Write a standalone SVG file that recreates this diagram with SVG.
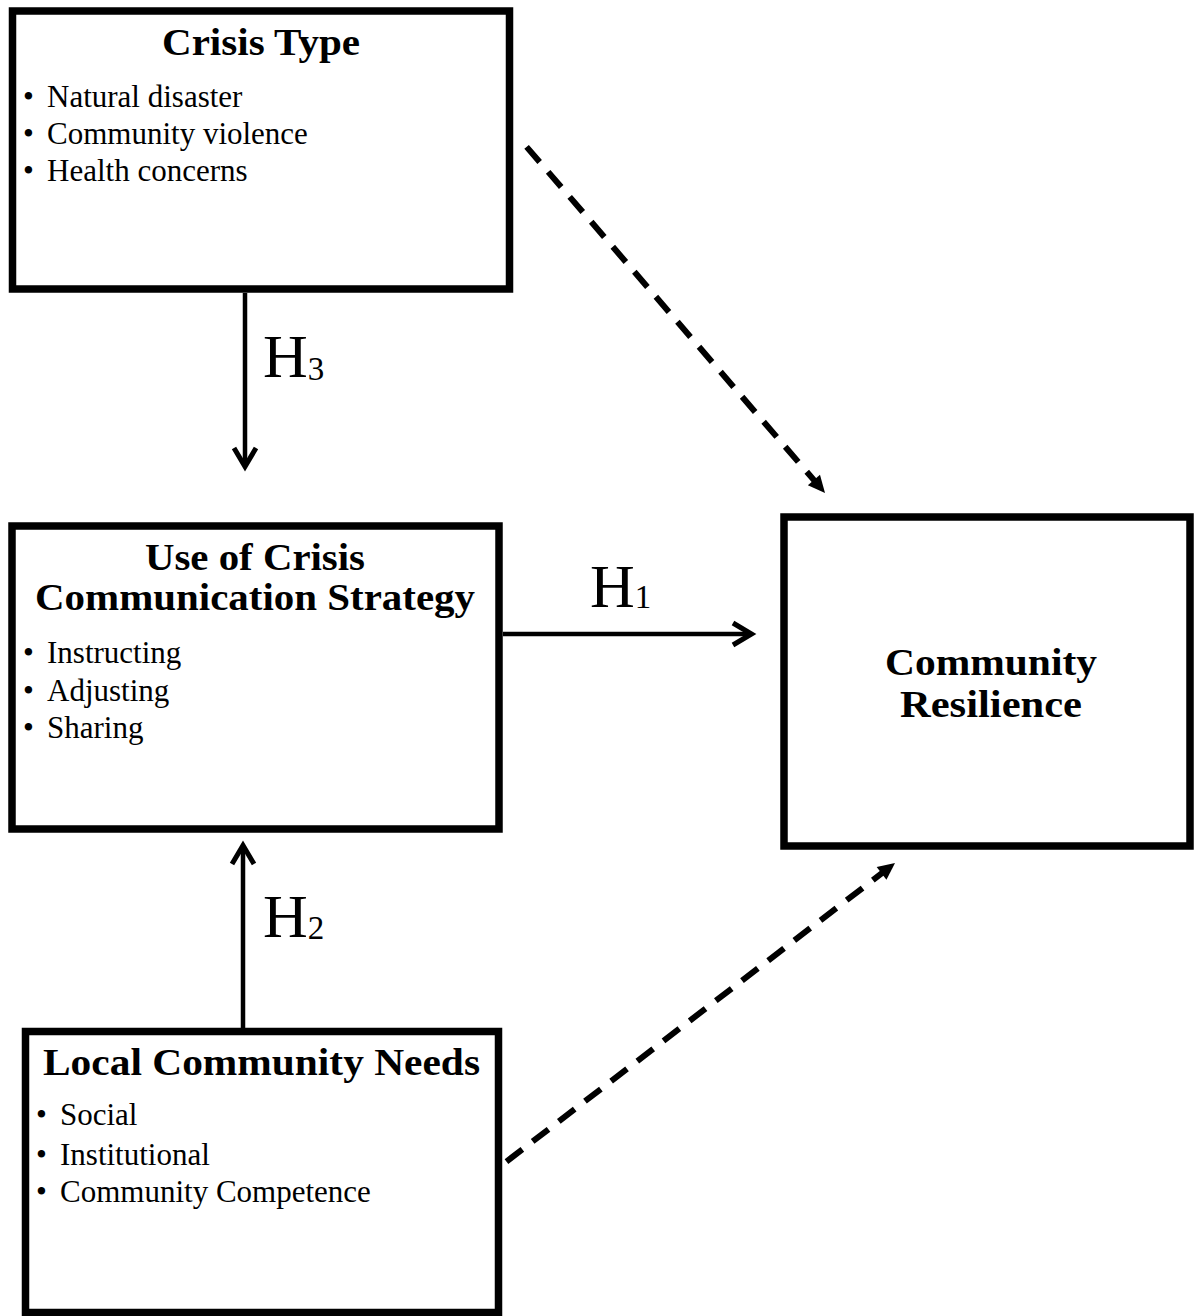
<svg xmlns="http://www.w3.org/2000/svg" width="1194" height="1316" viewBox="0 0 1194 1316">
  <style>
    .box { fill: #ffffff; stroke: #000000; stroke-width: 7.5; }
    .title { font-family: "Liberation Serif", "Times New Roman", serif; font-weight: bold; font-size: 37px; fill: #000000; text-anchor: middle; }
    .item { font-family: "Liberation Serif", "Times New Roman", serif; font-size: 31px; fill: #000000; }
    .hyp { font-family: "Liberation Serif", "Times New Roman", serif; font-size: 62px; fill: #000000; }
    .sub { font-size: 33px; }
    .solid { stroke: #000000; stroke-width: 4.5; fill: none; }
    .dashed { stroke: #000000; stroke-width: 6; fill: none; stroke-dasharray: 20 13; }
  </style>
  <defs>
    <!-- open chevron head for the solid hypothesis arrows -->
    <marker id="chevron" markerUnits="userSpaceOnUse" viewBox="-30 -16 36 32" markerWidth="36" markerHeight="32" refX="-4" refY="0" orient="auto" overflow="visible">
      <path d="M -22 -11 L -3.5 0 L -22 11" fill="none" stroke="#000000" stroke-width="5" stroke-linejoin="miter"/>
    </marker>
    <!-- small filled head for the dashed direct-effect arrows -->
    <marker id="dart" markerUnits="userSpaceOnUse" viewBox="-20 -10 24 20" markerWidth="24" markerHeight="20" refX="-8" refY="0" orient="auto-start-reverse" overflow="visible">
      <path d="M -17 -8 L 0 0 L -17 8 Z" fill="#000000"/>
    </marker>
  </defs>

  <rect width="1194" height="1316" fill="#ffffff"/>

  <g id="crisis-type">
    <rect class="box" x="12.5" y="11" width="497" height="278"/>
    <text class="title" x="261" y="55" font-size="38" textLength="198" lengthAdjust="spacingAndGlyphs">Crisis Type</text>
    <text class="item" x="23" y="107">•</text>
    <text class="item" x="47" y="107">Natural disaster</text>
    <text class="item" x="23" y="144">•</text>
    <text class="item" x="47" y="144">Community violence</text>
    <text class="item" x="23" y="181">•</text>
    <text class="item" x="47" y="181">Health concerns</text>
  </g>

  <g id="communication-strategy">
    <rect class="box" x="12" y="526" width="487" height="303"/>
    <text class="title" x="255" y="570" textLength="220" lengthAdjust="spacingAndGlyphs">Use of Crisis</text>
    <text class="title" x="255" y="610" textLength="440" lengthAdjust="spacingAndGlyphs">Communication Strategy</text>
    <text class="item" x="23" y="663">•</text>
    <text class="item" x="47" y="663">Instructing</text>
    <text class="item" x="23" y="701">•</text>
    <text class="item" x="47" y="701">Adjusting</text>
    <text class="item" x="23" y="738">•</text>
    <text class="item" x="47" y="738">Sharing</text>
  </g>

  <g id="community-resilience">
    <rect class="box" x="784" y="517" width="406" height="329"/>
    <text class="title" x="991" y="675" font-size="38" textLength="212" lengthAdjust="spacingAndGlyphs">Community</text>
    <text class="title" x="991" y="717" font-size="38" textLength="182" lengthAdjust="spacingAndGlyphs">Resilience</text>
  </g>

  <g id="local-needs">
    <rect class="box" x="25.5" y="1031.5" width="473" height="281"/>
    <text class="title" x="261.5" y="1075" textLength="437" lengthAdjust="spacingAndGlyphs">Local Community Needs</text>
    <text class="item" x="36" y="1125">•</text>
    <text class="item" x="60" y="1125">Social</text>
    <text class="item" x="36" y="1165">•</text>
    <text class="item" x="60" y="1165">Institutional</text>
    <text class="item" x="36" y="1202">•</text>
    <text class="item" x="60" y="1202">Community Competence</text>
  </g>

  <g id="connectors">
    <!-- H3: crisis type -> strategy -->
    <line class="solid" x1="245" y1="293" x2="245" y2="466" marker-end="url(#chevron)"/>
    <!-- H2: local needs -> strategy -->
    <line class="solid" x1="243" y1="1031" x2="243" y2="846" marker-end="url(#chevron)"/>
    <!-- H1: strategy -> resilience -->
    <line class="solid" x1="503" y1="634" x2="751" y2="634" marker-end="url(#chevron)"/>
    <!-- dashed direct paths, drawn from the head back so a dash meets the arrowhead -->
    <line class="dashed" x1="819.8" y1="486.9" x2="525" y2="145" marker-start="url(#dart)"/>
    <line class="dashed" x1="888.7" y1="867.9" x2="502" y2="1165" marker-start="url(#dart)"/>
  </g>

  <g id="hypothesis-labels">
    <text class="hyp" x="263" y="377">H<tspan class="sub" dy="3">3</tspan></text>
    <text class="hyp" x="590" y="607" font-size="60">H<tspan class="sub" dy="1">1</tspan></text>
    <text class="hyp" x="263" y="937">H<tspan class="sub" dy="2">2</tspan></text>
  </g>
</svg>
